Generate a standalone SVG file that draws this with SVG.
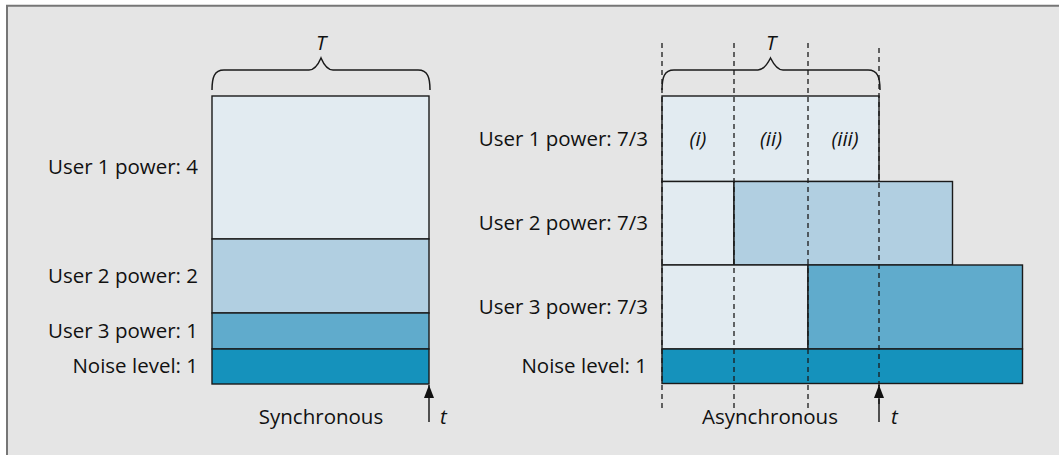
<svg xmlns="http://www.w3.org/2000/svg" width="1059" height="455" viewBox="0 0 1059 455">
<style>
.lbl{font-family:"Open Sans","Noto Sans","Liberation Sans",sans-serif;font-size:20.5px;fill:#111;}
.end{text-anchor:end;}
.mid{text-anchor:middle;}
.it{font-style:italic;}
.box{stroke:#1a1a1a;stroke-width:1.4;}
.c0{fill:#e2ebf1;}
.c1{fill:#b1cfe1;}
.c2{fill:#60abcc;}
.c3{fill:#1592bc;}
.brace{fill:none;stroke:#1a1a1a;stroke-width:1.5;}
.dash{stroke:#1a1a1a;stroke-width:1.3;stroke-dasharray:5 4;fill:none;}
.arr{stroke:#111;stroke-width:1.4;}
</style>
<defs>
<marker id="ah" markerUnits="userSpaceOnUse" markerWidth="14" markerHeight="10" refX="13" refY="5" orient="auto" viewBox="0 0 14 10">
<path d="M0 0 L13 5 L0 10 Z" fill="#111"/>
</marker>
</defs>
<rect x="6" y="5" width="1053" height="450" fill="#e5e5e5"/>
<line x1="6" y1="5.8" x2="1059" y2="5.8" stroke="#767676" stroke-width="2"/>
<line x1="7" y1="5" x2="7" y2="455" stroke="#767676" stroke-width="2"/>

<g id="sync">
<g id="sync-brace">
<path class="brace" d="M212 90 C212 78 214 70 224 70 L309 70 C314 70 318 65 321 58 C324 65 328 70 333 70 L418 70 C428 70 430 78 430 90"/>
<text class="lbl it mid" x="321" y="50">T</text>
</g>
<g id="sync-user1"><rect class="box c0" x="212" y="96" width="217" height="143"/><text class="lbl end" x="198" y="174">User 1 power: 4</text></g>
<g id="sync-user2"><rect class="box c1" x="212" y="239" width="217" height="74"/><text class="lbl end" x="198" y="283">User 2 power: 2</text></g>
<g id="sync-user3"><rect class="box c2" x="212" y="313" width="217" height="36"/><text class="lbl end" x="198" y="338">User 3 power: 1</text></g>
<g id="sync-noise"><rect class="box c3" x="212" y="349" width="217" height="35"/><text class="lbl end" x="198" y="373">Noise level: 1</text></g>
<text class="lbl mid" x="321" y="424">Synchronous</text>
<text class="lbl it" x="440" y="424">t</text>
</g>

<g id="async">
<g id="async-brace">
<path class="brace" d="M662 90 C662 78 664 70 674 70 L758 70 C763 70 767 65 770.5 58 C774 65 778 70 783 70 L868 70 C878 70 880 78 880 90"/>
<text class="lbl it mid" x="771" y="50">T</text>
</g>
<g id="async-user1"><rect class="box c0" x="662" y="96" width="217" height="85.5"/><text class="lbl end" x="648" y="146">User 1 power: 7/3</text>
<text class="lbl it mid" x="698" y="146">(i)</text><text class="lbl it mid" x="771" y="146">(ii)</text><text class="lbl it mid" x="845" y="146">(iii)</text></g>
<g id="async-user2"><rect class="box c0" x="662" y="181.5" width="72" height="83.5"/><rect class="box c1" x="734" y="181.5" width="218.5" height="83.5"/><text class="lbl end" x="648" y="230">User 2 power: 7/3</text></g>
<g id="async-user3"><rect class="box c0" x="662" y="265" width="146" height="84"/><rect class="box c2" x="808" y="265" width="214.5" height="84"/><text class="lbl end" x="648" y="314">User 3 power: 7/3</text></g>
<g id="async-noise"><rect class="box c3" x="662" y="349" width="360.5" height="34.5"/><text class="lbl end" x="647" y="373">Noise level: 1</text></g>
<text class="lbl mid" x="770" y="424">Asynchronous</text>
<text class="lbl it" x="891" y="424">t</text>
</g>

<g id="connectors">
<line class="dash" x1="662" y1="43" x2="662" y2="408"/>
<line class="dash" x1="734" y1="43" x2="734" y2="408"/>
<line class="dash" x1="808" y1="43" x2="808" y2="408"/>
<line class="dash" x1="879" y1="48" x2="879" y2="408"/>
<line class="arr" x1="429" y1="422" x2="429" y2="385" marker-end="url(#ah)"/>
<line class="arr" x1="879" y1="422" x2="879" y2="385" marker-end="url(#ah)"/>
</g>
</svg>
